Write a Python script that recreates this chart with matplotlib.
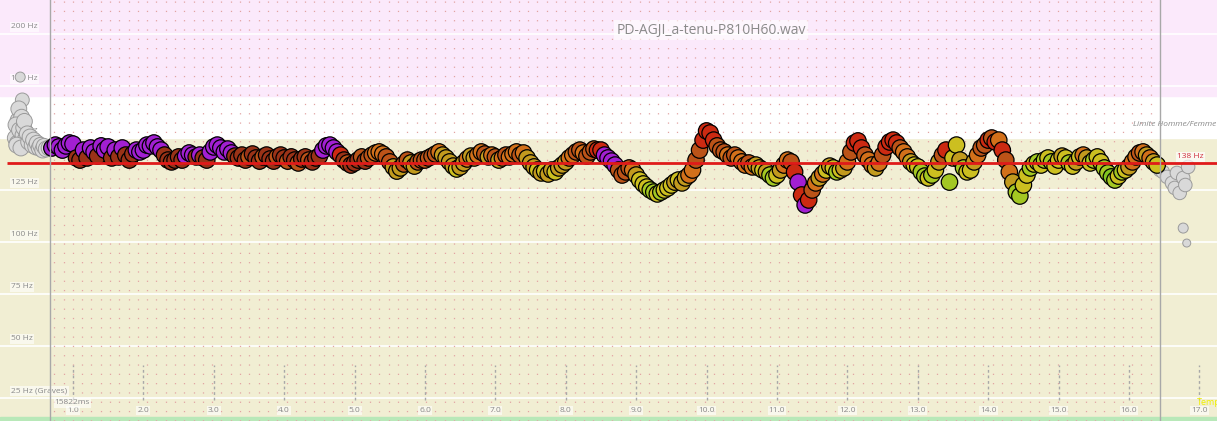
import matplotlib
matplotlib.use("Agg")
import matplotlib.pyplot as plt
from matplotlib.patches import Rectangle
import numpy as np

plt.rcParams['font.family'] = ['Open Sans', 'DejaVu Sans']
plt.rcParams['lines.scale_dashes'] = False

# --- données ---
title = "PD-AGJI_a-tenu-P810H60.wav"
duration_label = "15822ms"
hop = 0.05          # pas d'analyse (s)
t_first = 0.70      # premier point coloré (s)
seg_start, seg_end = 0.673, 16.44
limit_hz = 138

# hauteur (Hz), une ligne par seconde
pitch_hz = [
    145.2, 146.6, 145.7, 144.2, 146.2, 147.6,
    147.1, 140.4, 139.4, 144.2, 140.4, 145.2, 143.3, 141.3, 146.2, 144.2, 145.7, 140.4, 144.2, 140.9, 145.2, 141.8, 139.4, 142.3, 144.2, 143.3,
    144.2, 146.6, 146.2, 147.6, 145.7, 144.2, 141.8, 139.4, 138.5, 139.4, 140.9, 139.4, 141.3, 142.8, 141.8, 140.9, 141.8, 140.4, 139.4, 143.3,
    145.7, 146.6, 145.2, 143.3, 144.7, 142.8, 141.3, 140.4, 141.8, 139.4, 140.9, 142.3, 140.4, 138.9, 140.9, 141.8, 139.9, 138.9, 140.9, 141.8,
    140.4, 138.9, 140.9, 139.4, 138.0, 139.9, 140.9, 139.4, 138.5, 140.4, 141.3, 144.2, 146.2, 146.6, 145.2, 143.3, 141.8, 139.4, 138.0, 137.0,
    138.0, 139.4, 140.9, 138.9, 140.4, 141.8, 142.8, 143.3, 142.3, 140.9, 138.5, 136.1, 134.1, 135.6, 137.5, 139.4, 138.0, 136.5, 138.5, 139.4,
    139.4, 140.4, 141.3, 142.3, 143.3, 141.8, 140.4, 138.5, 136.5, 135.1, 136.1, 138.0, 139.9, 141.3, 140.4, 141.8, 143.3, 142.3, 140.9, 141.8,
    140.9, 139.4, 140.4, 141.8, 140.9, 142.3, 143.3, 141.8, 142.8, 140.4, 138.0, 136.1, 134.6, 133.2, 134.1, 132.7, 134.6, 133.7, 135.6, 137.0,
    138.5, 140.4, 141.8, 143.3, 144.2, 142.8, 141.3, 143.3, 144.7, 144.2, 144.2, 141.8, 140.4, 138.9, 137.0, 134.6, 132.2, 133.7, 135.6, 134.6,
    132.2, 129.8, 127.9, 126.4, 125.0, 124.0, 123.1, 124.0, 125.0, 126.0, 127.4, 128.8, 129.8, 128.4, 130.8, 132.2, 134.6, 139.4, 144.2, 149.0,
    153.4, 152.4, 149.0, 146.2, 144.2, 143.3, 141.8, 140.4, 141.8, 140.4, 138.5, 137.0, 138.0, 136.1, 137.0, 135.6, 134.6, 133.7, 132.2, 130.8,
    132.2, 134.6, 137.0, 139.4, 138.5, 133.7, 128.8, 122.6, 117.8, 120.2, 125.0, 128.4, 130.8, 132.7, 134.6, 136.5, 135.6, 133.7, 134.6, 135.6,
    138.5, 143.3, 147.6, 148.6, 145.2, 141.8, 139.4, 137.0, 135.6, 138.0, 141.8, 145.7, 148.1, 149.0, 147.6, 145.2, 143.3, 140.9, 138.5, 137.0,
    136.1, 133.7, 131.7, 130.8, 132.2, 134.6, 138.5, 141.8, 144.2, 128.8, 140.4, 146.6, 139.4, 135.6, 133.7, 134.6, 138.5, 141.8, 145.2, 146.6,
    149.0, 150.0, 148.1, 149.0, 144.2, 139.4, 133.7, 128.8, 124.0, 122.1, 127.4, 132.2, 135.6, 137.5, 138.5, 137.0, 139.4, 140.4, 138.5, 136.5,
    139.4, 141.3, 140.4, 138.0, 136.5, 138.5, 140.9, 141.8, 140.4, 138.0, 139.4, 140.9, 138.5, 135.6, 133.2, 131.3, 129.8, 131.7, 133.7, 134.6,
    136.1, 138.5, 140.9, 142.8, 143.3, 141.8, 140.4, 138.5, 137.0,
]

# classe de couleur de chaque point (0 violet ... 8 vert)
pitch_class = (
    "000000"
    "01101001000101011100"
    "00000011111100010110"
    "00000011113111311131"
    "13113113111000002131"
    "11313344433555335533"
    "33334555565545544354"
    "35434443455565655655"
    "54433433322000033334"
    "56667767666565544332"
    "22233343344434556577"
    "65443202023454656765"
    "43222344543222234456"
    "67767653276657665433"
    "23242345776676767676"
    "65676564567667787676"
    "544345456"
)
palette = ["#a21fd2", "#9a3217", "#cc2a12", "#bb5318", "#d2701a",
           "#c29a1e", "#ccbf20", "#a3c722", "#80c420"]

# points hors segment (gris)
gray_start_t = [0.25, 0.28, 0.18, 0.21, 0.25, 0.22, 0.23, 0.27, 0.19, 0.24, 0.29, 0.30,
                0.31, 0.33, 0.35, 0.20, 0.26, 0.37, 0.39, 0.42, 0.44, 0.47, 0.49,
                0.52, 0.54, 0.57, 0.59, 0.62, 0.66]
gray_start_hz = [179.3, 168.3, 150.0, 147.5, 146.5, 158.5, 164.0, 160.0, 156.3, 153.8, 151.4, 155.0,
                 158.0, 150.0, 152.0, 146.6, 145.2, 148.1, 150.5, 146.6, 149.0, 145.7, 147.5,
                 145.2, 146.5, 144.2, 146.0, 144.7, 145.2]
gray_start_s = [52, 100] + [130] * 27
gray_end_t = [16.44, 16.48, 16.54, 16.61, 16.65, 16.68, 16.72, 16.77, 16.80, 16.84, 16.77, 16.82]
gray_end_hz = [134.6, 133.7, 131.3, 128.4, 126.0, 133.2, 123.6, 130.8, 127.4, 136.1, 106.7, 99.5]
gray_end_s = [95, 95, 95, 95, 95, 95, 95, 95, 95, 95, 52, 33]

y_ticks = [200, 175, 150, 125, 100, 75, 50, 25]
y_labels = ["200 Hz", "175 Hz", "150 Hz", "125 Hz", "100 Hz", "75 Hz", "50 Hz", "25 Hz (Graves)"]
x_ticks = list(range(1, 18))
x_labels = [f"{v}.0" for v in x_ticks]

# --- figure ---
fig = plt.figure(figsize=(12.17, 4.21), dpi=100)
ax = fig.add_axes([0, 0, 1, 1])
ax.set_xlim(-0.037, 17.25)
ax.set_ylim(13.94, 216.35)
ax.axis('off')

# bandes de fond
ax.axhspan(13.94, 150, color="#f1eed3", zorder=0)
ax.axhspan(150, 170, color="white", zorder=0)
ax.axhspan(170, 216.35, color="#fbe9fb", zorder=0)
ax.add_patch(Rectangle((0, 0), 1, 4 / 421, transform=ax.transAxes,
                       color="#b8e8b8", zorder=1))
for v in y_ticks:
    ax.axhline(v, color="white", lw=1.2, zorder=1)

# grille de points
for x in np.arange(seg_start + 0.06, seg_end, 0.132):
    ax.axvline(x, color="#e2a3a3", lw=0.9, linestyle=(0, (0.9, 5.8)), zorder=1)

# graduations du temps
ax.vlines(x_ticks, 24.0, 40.9, color="#a8a8a8", lw=1, linestyles=(0, (2, 2)), zorder=1)
for x, lab in zip(x_ticks, x_labels):
    ax.text(x, 18.8, lab, ha='center', va='center', fontsize=6, color="#8a8a8a",
            bbox=dict(facecolor='white', alpha=0.6, edgecolor='none', pad=0.8), zorder=2)

for v, lab in zip(y_ticks, y_labels):
    ax.text(0.125, v + 3.4, lab, ha='left', va='center', fontsize=6, color="#8a8a8a",
            bbox=dict(facecolor='white', alpha=0.6, edgecolor='none', pad=0.8), zorder=2)

# points
ax.scatter(gray_start_t, gray_start_hz, s=gray_start_s, c="#d9d9d9",
           edgecolors="#9a9a9a", linewidths=0.7, zorder=3)
ax.scatter(gray_end_t, gray_end_hz, s=gray_end_s, c="#d9d9d9",
           edgecolors="#9a9a9a", linewidths=0.7, zorder=3)
t = t_first + hop * np.arange(len(pitch_hz))
cols = [palette[int(k)] for k in pitch_class]
ax.scatter(t, pitch_hz, s=140, c=cols, edgecolors="black", linewidths=0.9, zorder=4)

# limite homme/femme
ax.hlines(limit_hz, 0.063, 17.25, color="#e01a1a", lw=2.0, zorder=6)
ax.text(16.87, 140.9, f"{limit_hz} Hz", ha='center', va='center', fontsize=6, color="#d03040",
        bbox=dict(facecolor='white', alpha=0.7, edgecolor='none', pad=0.8), zorder=6)
ax.text(17.24, 156.3, "Limite Homme/Femme", ha='right', va='center', fontsize=6,
        style='italic', color="#8a8a8a", zorder=6)

ax.axvline(seg_start, color="#a8a8a8", lw=1, zorder=7)
ax.axvline(seg_end, color="#a8a8a8", lw=1, zorder=7)

ax.text(10.06, 201.9, title, ha='center', va='center', fontsize=10, color="#8a8a8a",
        bbox=dict(facecolor='white', alpha=0.6, edgecolor='none', pad=1.5), zorder=6)
ax.text(0.74, 22.6, duration_label, ha='left', va='center', fontsize=6, color="#8a8a8a",
        bbox=dict(facecolor='white', alpha=0.6, edgecolor='none', pad=0.8), zorder=6)
ax.text(16.97, 22.6, "Temps", ha='left', va='center', fontsize=6.5, color="#f0f000", zorder=6)

fig.savefig("out.png", dpi=100)
